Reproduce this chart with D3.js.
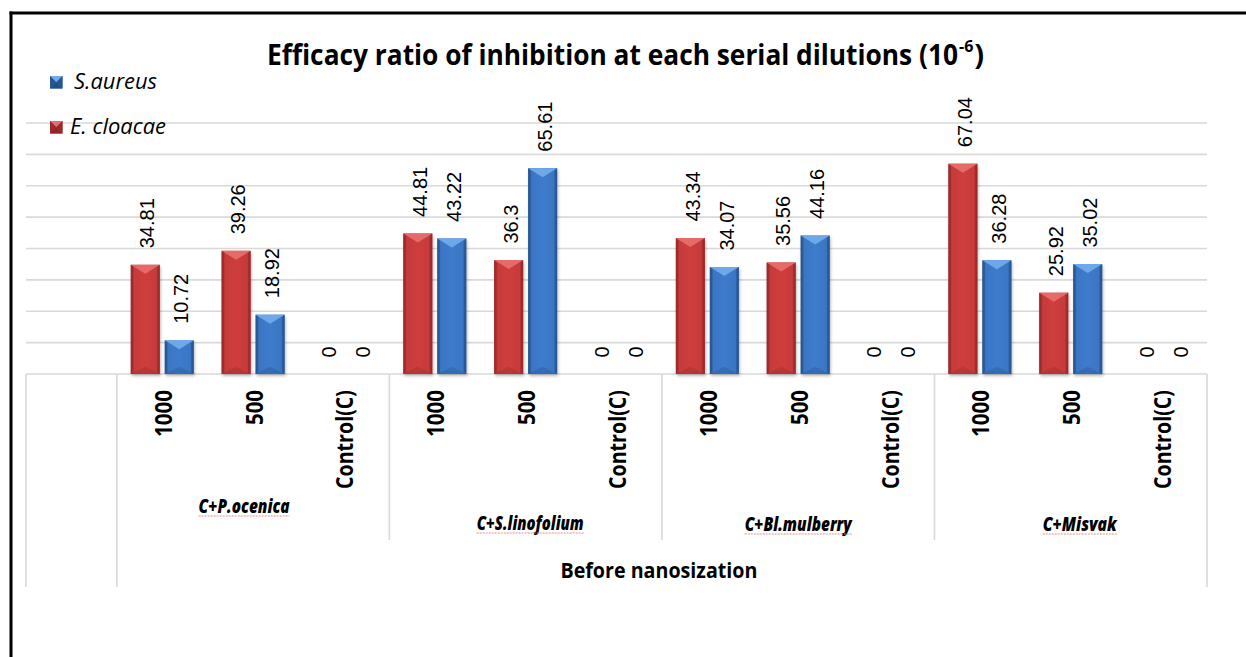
<!DOCTYPE html>
<html>
<head>
<meta charset="utf-8">
<script src="https://cdn.jsdelivr.net/npm/d3@7"></script>
<style>
  html, body { margin: 0; padding: 0; background: #fff; }
  svg { display: block; }
</style>
</head>
<body>
<svg id="chart" width="1246" height="657"></svg>
<script>
// ---------------- data ----------------
const groups = ["C+P.ocenica", "C+S.linofolium", "C+Bl.mulberry", "C+Misvak"];
const dilutions = ["1000", "500", "Control(C)"];
const seriesNames = ["E. cloacae", "S.aureus"];
const eCloacae = [34.81, 39.26, 0, 44.81, 36.3, 0, 43.34, 35.56, 0, 67.04, 25.92, 0];
const sAureus  = [10.72, 18.92, 0, 43.22, 65.61, 0, 34.07, 44.16, 0, 36.28, 35.02, 0];
const gridTicks = [0, 10, 20, 30, 40, 50, 60, 70, 80];
const outerLabel = "Before nanosization";
const titleMain = "Efficacy ratio of inhibition at each serial dilutions (10";
const titleSup = "-6";
const titleEnd = ")";

// ---------------- layout ----------------
const svg = d3.select("#chart");
const W = 1246, H = 657;
const plotL = 26, plotR = 1207, baseY = 374, topY = 123;

const keys = ["__blank__"];
groups.forEach(g => dilutions.forEach(d => keys.push(g + "|" + d)));
const rows = [];
groups.forEach((g, gi) => dilutions.forEach((d, di) => {
  const i = gi * dilutions.length + di;
  rows.push({ key: g + "|" + d, group: g, dil: d, vals: [eCloacae[i], sAureus[i]] });
}));

const x = d3.scaleBand().domain(keys).range([plotL, plotR]).paddingInner(0).paddingOuter(0);
const xs = d3.scaleBand().domain(seriesNames).range([0, x.bandwidth()]).paddingInner(0.147).paddingOuter(0.41);
const y = d3.scaleLinear().domain([0, 80]).range([baseY, topY]);

const colors = {
  "E. cloacae": { face: "#c63a3a", edge: "#9a2a2b", top: "#e66e6c", bottom: "#8f2426" },
  "S.aureus":   { face: "#3a76c3", edge: "#285692", top: "#72abea", bottom: "#234d85" }
};

const defs = svg.append("defs");
seriesNames.forEach((s, i) => {
  const c = colors[s];
  const g = defs.append("linearGradient").attr("id", "grad" + i).attr("x1", "0").attr("x2", "1").attr("y1", "0").attr("y2", "0");
  g.append("stop").attr("offset", "0").attr("stop-color", c.edge);
  g.append("stop").attr("offset", "0.12").attr("stop-color", c.face);
  g.append("stop").attr("offset", "0.5").attr("stop-color", d3.color(c.face).brighter(0.12));
  g.append("stop").attr("offset", "0.88").attr("stop-color", c.face);
  g.append("stop").attr("offset", "1").attr("stop-color", c.edge);
});
const f = defs.append("filter").attr("id", "shadow").attr("x", "-30%").attr("y", "-10%").attr("width", "160%").attr("height", "130%");
f.append("feDropShadow").attr("dx", 1).attr("dy", 2).attr("stdDeviation", 1.6).attr("flood-color", "#000").attr("flood-opacity", 0.28);

svg.append("rect").attr("width", W).attr("height", H).attr("fill", "#fff");

// gridlines
svg.append("g").selectAll("line").data(gridTicks).join("line")
  .attr("x1", plotL).attr("x2", plotR)
  .attr("y1", d => y(d)).attr("y2", d => y(d))
  .attr("stroke", "#d9d9d9").attr("stroke-width", 1.6);

// category axis vertical separators
const step = x.step();
const lineColor = "#d9d9d9";
const vLines = [];
vLines.push({ x: plotL, y2: 587 });
vLines.push({ x: x(keys[1]), y2: 587 });
groups.forEach((g, gi) => {
  if (gi > 0) vLines.push({ x: x(g + "|" + dilutions[0]), y2: 540 });
});
vLines.push({ x: plotR, y2: 587 });
svg.append("g").selectAll("line").data(vLines).join("line")
  .attr("x1", d => d.x).attr("x2", d => d.x)
  .attr("y1", baseY).attr("y2", d => d.y2)
  .attr("stroke", lineColor).attr("stroke-width", 1.6);

// bars with bevel
function drawBar(g, bx, by, bw, bh, si, depth) {
  const c = colors[seriesNames[si]];
  if (bh <= 0.5) return;
  const d = Math.min(depth, bh / 2, bw / 2);
  g.append("rect").attr("x", bx).attr("y", by).attr("width", bw).attr("height", bh)
    .attr("fill", "url(#grad" + si + ")").attr("filter", "url(#shadow)");
  g.append("path")
    .attr("d", `M${bx},${by} L${bx + bw},${by} L${bx + bw / 2},${by + d} Z`)
    .attr("fill", c.top).attr("opacity", 0.95);
  g.append("path")
    .attr("d", `M${bx},${by + bh} L${bx + bw},${by + bh} L${bx + bw / 2},${by + bh - d * 0.8} Z`)
    .attr("fill", c.bottom).attr("opacity", 0.3);
  g.append("path")
    .attr("d", `M${bx},${by} L${bx + 2.5},${by + d * 0.3} L${bx + 2.5},${by + bh - d * 0.3} L${bx},${by + bh} Z`)
    .attr("fill", c.edge).attr("opacity", 0.7);
  g.append("path")
    .attr("d", `M${bx + bw},${by} L${bx + bw - 2.5},${by + d * 0.3} L${bx + bw - 2.5},${by + bh - d * 0.3} L${bx + bw},${by + bh} Z`)
    .attr("fill", c.edge).attr("opacity", 0.7);
}

const barsG = svg.append("g");
rows.forEach(r => {
  r.vals.forEach((v, si) => {
    const bx = x(r.key) + xs(seriesNames[si]);
    const by = y(v);
    drawBar(barsG, bx, by, xs.bandwidth(), baseY - by, si, 9);
  });
});

// data labels (rotated)
const labG = svg.append("g");
rows.forEach(r => {
  r.vals.forEach((v, si) => {
    const cx = x(r.key) + xs(seriesNames[si]) + xs.bandwidth() / 2 + 2;
    const ty = y(v) - 16.5;
    labG.append("text")
      .attr("transform", `translate(${cx},${ty}) rotate(-90)`)
      .attr("dy", "0.36em")
      .attr("text-anchor", "start")
      .attr("font-family", "'Liberation Sans', Arial, sans-serif")
      .attr("font-size", 20)
      .attr("fill", "#000")
      .text(String(v));
  });
});

// tick labels (rotated, bold)
const tickLen = { "1000": 47, "500": 35, "Control(C)": 99 };
const tickG = svg.append("g");
rows.forEach(r => {
  const cx = x(r.key) + x.bandwidth() / 2 + 1;
  tickG.append("text")
    .attr("transform", `translate(${cx},390) rotate(-90)`)
    .attr("dy", "0.37em")
    .attr("text-anchor", "end")
    .attr("font-family", "'Open Sans', sans-serif")
    .attr("font-weight", "bold")
    .attr("font-size", 23)
    .attr("textLength", tickLen[r.dil]).attr("lengthAdjust", "spacingAndGlyphs")
    .attr("fill", "#000")
    .text(r.dil);
});

// group labels
const groupOffsets = [-9, 4.5, 0, 9];
const groupBaselines = [513, 530, 531, 531];
const groupWidths = [91, 107, 107, 74];
const grpG = svg.append("g");
groups.forEach((g, gi) => {
  const cx = x(g + "|" + dilutions[0]) + step * 1.5 + groupOffsets[gi];
  grpG.append("text")
    .attr("x", cx).attr("y", groupBaselines[gi])
    .attr("text-anchor", "middle")
    .attr("font-family", "'Open Sans', sans-serif")
    .attr("font-weight", "800").attr("font-style", "italic")
    .attr("font-size", 19)
    .attr("textLength", groupWidths[gi]).attr("lengthAdjust", "spacingAndGlyphs")
    .attr("fill", "#000")
    .text(g);
  grpG.append("line")
    .attr("x1", cx - groupWidths[gi] / 2).attr("x2", cx + groupWidths[gi] / 2)
    .attr("y1", groupBaselines[gi] + 3).attr("y2", groupBaselines[gi] + 3)
    .attr("stroke", "#e88a8a").attr("stroke-width", 1).attr("stroke-dasharray", "2,1");
});

// outer label
svg.append("text")
  .attr("x", (x(keys[1]) + plotR) / 2 - 3).attr("y", 578)
  .attr("text-anchor", "middle")
  .attr("font-family", "'Open Sans', sans-serif")
  .attr("font-weight", "bold").attr("font-size", 21)
  .attr("textLength", 197).attr("lengthAdjust", "spacingAndGlyphs")
  .attr("fill", "#000")
  .text(outerLabel);

// title with superscript (tspans of one text element)
const title = svg.append("text")
  .attr("x", 267).attr("y", 65)
  .attr("font-family", "'Open Sans', sans-serif")
  .attr("font-weight", "bold").attr("font-size", 29)
  .attr("fill", "#000");
title.append("tspan")
  .attr("textLength", 691).attr("lengthAdjust", "spacingAndGlyphs")
  .text(titleMain);
title.append("tspan").attr("font-size", 16).attr("dx", 1).attr("dy", -13).text(titleSup);
title.append("tspan").attr("dx", 1).attr("dy", 13).text(titleEnd);

// legend
const legendItems = [
  { name: "S.aureus", si: 1, y: 76, tx: 74, ty: 89, w: 83 },
  { name: "E. cloacae", si: 0, y: 121, tx: 70, ty: 134, w: 96 }
];
const legG = svg.append("g");
legendItems.forEach(li => {
  const c = colors[seriesNames[li.si]];
  const bx = 50, by = li.y, s = 12.5;
  legG.append("rect").attr("x", bx).attr("y", by).attr("width", s).attr("height", s).attr("fill", c.face);
  legG.append("path").attr("d", `M${bx},${by} L${bx + s},${by} L${bx + s / 2},${by + s / 2} Z`).attr("fill", c.top);
  legG.append("path").attr("d", `M${bx},${by + s} L${bx + s},${by + s} L${bx + s / 2},${by + s / 2} Z`).attr("fill", c.bottom);
  legG.append("path").attr("d", `M${bx},${by} L${bx + s / 2},${by + s / 2} L${bx},${by + s} Z`).attr("fill", c.edge);
  legG.append("path").attr("d", `M${bx + s},${by} L${bx + s / 2},${by + s / 2} L${bx + s},${by + s} Z`).attr("fill", c.edge);
  legG.append("text")
    .attr("x", li.tx).attr("y", li.ty)
    .attr("font-family", "'Open Sans', sans-serif")
    .attr("font-style", "italic").attr("font-size", 21)
    .attr("textLength", li.w).attr("lengthAdjust", "spacingAndGlyphs")
    .attr("fill", "#000")
    .text(li.name);
});

// black frame (top and left)
svg.append("line").attr("x1", 9.5).attr("x2", W).attr("y1", 13).attr("y2", 13).attr("stroke", "#000").attr("stroke-width", 3);
svg.append("line").attr("x1", 11).attr("x2", 11).attr("y1", 11.5).attr("y2", H).attr("stroke", "#000").attr("stroke-width", 3);
</script>
</body>
</html>
